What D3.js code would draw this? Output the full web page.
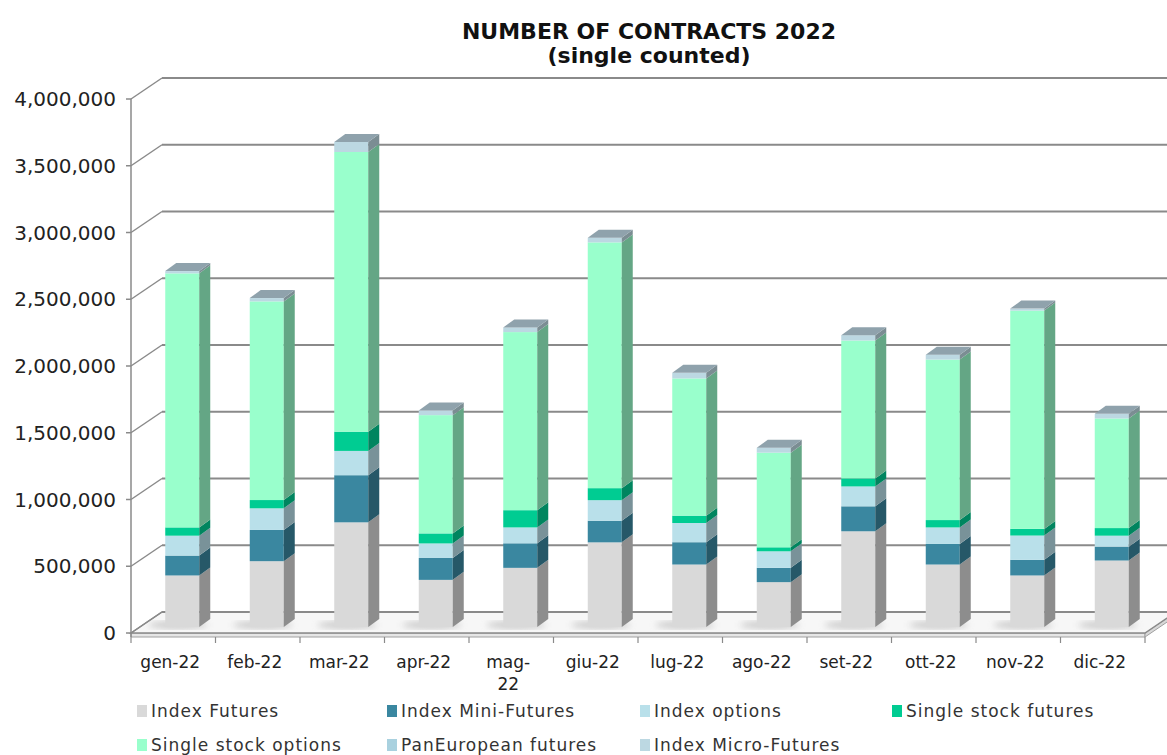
<!DOCTYPE html>
<html>
<head>
<meta charset="utf-8">
<script src="https://cdn.jsdelivr.net/npm/d3@7"></script>
<style>
  body { margin: 0; background: #fff; }
  svg { display: block; font-family: "DejaVu Sans", Verdana, sans-serif; }
</style>
</head>
<body>
<svg id="chart" width="1167" height="755"></svg>
<script>
// values (contracts per month)
const months = ["gen-22","feb-22","mar-22","apr-22","mag-22","giu-22","lug-22","ago-22","set-22","ott-22","nov-22","dic-22"];
const indexFutures      = [386000, 493000, 784000, 353000, 443000, 634000, 468000, 336000, 717000, 468000, 386000, 498000];
const indexMiniFutures  = [149000, 234000, 353000, 164000, 184000, 162000, 167000, 107000, 187000, 154000, 117000, 104000];
const indexOptions      = [149000, 162000, 182000, 109000, 119000, 154000, 144000, 124000, 149000, 124000, 182000,  82000];
const singleStockFut    = [ 62000,  62000, 144000,  75000, 129000,  90000,  55000,  30000,  60000,  55000,  50000,  57000];
const singleStockOpt    = [1903000,1488000,2095000, 886000,1334000,1841000,1028000, 709000,1033000,1202000,1635000, 821000];
const panEuropeanFut    = [0, 0, 0, 0, 0, 0, 0, 0, 0, 0, 0, 0];
const indexMicroFutures = [ 17000,  25000,  75000,  35000,  35000,  35000,  42000,  37000,  40000,  37000,  15000,  35000];
const yTicks = [0, 500000, 1000000, 1500000, 2000000, 2500000, 3000000, 3500000, 4000000];

const seriesNames  = ["Index Futures","Index Mini-Futures","Index options","Single stock futures","Single stock options","PanEuropean futures","Index Micro-Futures"];
const seriesValues = [indexFutures, indexMiniFutures, indexOptions, singleStockFut, singleStockOpt, panEuropeanFut, indexMicroFutures];
const seriesColors = ["#d9d9d9","#3a87a0","#b9e0ea","#00cc92","#99ffcc","#a9d1df","#bcd8e2"];

const svg = d3.select("#chart");
const GRID = "#8a8a8a";

// geometry of the oblique 3d box
const plotLeft = 131, plotRight = 1145, plotBottom = 633, plotTop = 99;
const DX = 31, DY = -21;          // wall depth
const BDX = 9, BDY = -6;          // where bars sit in depth
const SDX = 11, SDY = -8;         // bar side depth
const barW = 34;

const x = d3.scaleBand().domain(months).range([plotLeft, plotRight]);
const y = d3.scaleLinear().domain([0, 4000000]).range([plotBottom, plotTop]);

// table for stacking
const table = months.map((m, i) => {
  const row = { month: m };
  seriesNames.forEach((s, j) => row[s] = seriesValues[j][i]);
  return row;
});
const stacked = d3.stack().keys(seriesNames)(table);

const defs = svg.append("defs");
defs.append("filter").attr("id", "blur").append("feGaussianBlur").attr("stdDeviation", 3);

// floor
const fy = plotBottom;
svg.append("path")
  .attr("d", `M${plotLeft},${fy} L${plotRight},${fy} L${plotRight},${fy+4} L${plotLeft},${fy+4} Z`)
  .attr("fill", "#e6e6e6").attr("stroke", "#a0a0a0").attr("stroke-width", 1);
svg.append("path")
  .attr("d", `M${plotRight},${fy} L${plotRight+DX},${fy+DY} L${plotRight+DX},${fy+DY+4} L${plotRight},${fy+4} Z`)
  .attr("fill", "#d8d8d8").attr("stroke", "#a0a0a0").attr("stroke-width", 1);
svg.append("path")
  .attr("d", `M${plotLeft},${fy} L${plotLeft+DX},${fy+DY} L${plotRight+DX},${fy+DY} L${plotRight},${fy} Z`)
  .attr("fill", "#f7f7f7").attr("stroke", GRID).attr("stroke-width", 1.5);

// back wall gridlines and left wall diagonals
const grid = svg.append("g");
yTicks.forEach(t => {
  const yy = y(t);
  grid.append("line")
    .attr("x1", plotLeft + DX).attr("x2", 1167)
    .attr("y1", yy + DY).attr("y2", yy + DY)
    .attr("stroke", GRID).attr("stroke-width", 2);
  grid.append("line")
    .attr("x1", plotLeft).attr("x2", plotLeft + DX)
    .attr("y1", yy).attr("y2", yy + DY)
    .attr("stroke", GRID).attr("stroke-width", 1.5);
  grid.append("line")
    .attr("x1", plotLeft - 5).attr("x2", plotLeft)
    .attr("y1", yy).attr("y2", yy)
    .attr("stroke", GRID).attr("stroke-width", 1.5);
});
grid.append("line")
  .attr("x1", plotLeft).attr("x2", plotLeft).attr("y1", plotTop).attr("y2", plotBottom + 4)
  .attr("stroke", GRID).attr("stroke-width", 1.5);

// y labels
const fmt = d3.format(",");
svg.append("g").selectAll("text").data(yTicks).join("text")
  .attr("x", 116).attr("y", d => y(d)).attr("dy", "0.36em")
  .attr("text-anchor", "end").attr("font-size", 20).attr("fill", "#222")
  .text(d => fmt(d));

// x ticks below the floor
svg.append("g").selectAll("line").data(d3.range(months.length + 1)).join("line")
  .attr("x1", i => plotLeft + i * x.step()).attr("x2", i => plotLeft + i * x.step())
  .attr("y1", plotBottom + 4).attr("y2", plotBottom + 10)
  .attr("stroke", GRID).attr("stroke-width", 1.2);

// soft shadows on the floor
svg.append("g").selectAll("ellipse").data(months).join("ellipse")
  .attr("cx", d => x(d) + x.bandwidth() / 2 + BDX - 4)
  .attr("cy", plotBottom + BDY - 2)
  .attr("rx", 30).attr("ry", 4)
  .attr("fill", "#b0b0b0").attr("opacity", 0.6)
  .attr("filter", "url(#blur)");

// bars
const bars = svg.append("g");
const shade = (c, k) => d3.color(c).darker(k).formatHex();
stacked.forEach((layer, j) => {
  const col = seriesColors[j];
  layer.forEach((d, i) => {
    if (d[1] - d[0] <= 0) return;
    const x0 = x(months[i]) + x.bandwidth() / 2 + BDX - barW / 2;
    const yb = y(d[0]) + BDY, yt = y(d[1]) + BDY;
    bars.append("rect")
      .attr("x", x0).attr("y", yt).attr("width", barW).attr("height", yb - yt)
      .attr("fill", col);
    bars.append("path")
      .attr("d", `M${x0+barW},${yt} L${x0+barW+SDX},${yt+SDY} L${x0+barW+SDX},${yb+SDY} L${x0+barW},${yb} Z`)
      .attr("fill", shade(col, 1.2));
  });
});
// top faces
months.forEach((m, i) => {
  let topIdx = 0;
  stacked.forEach((layer, j) => { if (layer[i][1] - layer[i][0] > 0) topIdx = j; });
  const x0 = x(m) + x.bandwidth() / 2 + BDX - barW / 2;
  const yt = y(stacked[topIdx][i][1]) + BDY;
  bars.append("path")
    .attr("d", `M${x0},${yt} L${x0+SDX},${yt+SDY} L${x0+barW+SDX},${yt+SDY} L${x0+barW},${yt} Z`)
    .attr("fill", "#8fa2ac");
});

// x labels, wrap at the hyphen when too wide
const xl = svg.append("g").selectAll("text").data(months).join("text")
  .attr("x", d => x(d) + x.bandwidth() / 2 - 3)
  .attr("y", 668)
  .attr("text-anchor", "middle").attr("font-size", 17).attr("fill", "#222");
xl.each(function(d) {
  const t = d3.select(this);
  t.text(d);
  if (this.getComputedTextLength() > 64) {
    const parts = d.split("-");
    t.text(null);
    t.append("tspan").attr("x", t.attr("x")).text(parts[0] + "-");
    t.append("tspan").attr("x", t.attr("x")).attr("dy", 22).text(parts[1]);
  }
});

// title
svg.append("text").attr("x", 649).attr("y", 39).attr("text-anchor", "middle")
  .attr("font-size", 22).attr("font-weight", "bold").attr("fill", "#111")
  .text("NUMBER OF CONTRACTS 2022");
svg.append("text").attr("x", 649).attr("y", 63).attr("text-anchor", "middle")
  .attr("font-size", 22).attr("font-weight", "bold").attr("fill", "#111")
  .text("(single counted)");

// legend
const legX = [137, 387, 640, 892];
const leg = svg.append("g").selectAll("g").data(seriesNames).join("g")
  .attr("transform", (d, i) => `translate(${legX[i % 4]},${i < 4 ? 711 : 745})`);
leg.append("rect").attr("x", 0).attr("y", -6).attr("width", 10).attr("height", 12)
  .attr("fill", (d, i) => seriesColors[i]);
leg.append("text").attr("x", 14).attr("dy", "0.36em")
  .attr("font-size", 17).attr("letter-spacing", 1).attr("fill", "#333")
  .text(d => d);
</script>
</body>
</html>
